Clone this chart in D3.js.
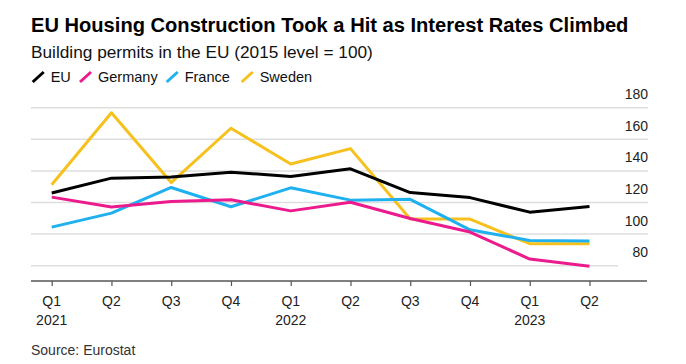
<!DOCTYPE html>
<html>
<head>
<meta charset="utf-8">
<script src="https://cdn.jsdelivr.net/npm/d3@7"></script>
<style>
  html, body { margin: 0; padding: 0; background: #fff; }
  svg { display: block; font-family: "Liberation Sans", Arial, sans-serif; }
</style>
</head>
<body>
<svg id="chart" width="686" height="364"></svg>
<script>
const quarters = ["Q1 2021","Q2 2021","Q3 2021","Q4 2021","Q1 2022","Q2 2022","Q3 2022","Q4 2022","Q1 2023","Q2 2023"];
const quarterLabels = ["Q1","Q2","Q3","Q4","Q1","Q2","Q3","Q4","Q1","Q2"];
const yearLabels = ["2021","","","","2022","","","","2023",""];
const yTicks = [80, 100, 120, 140, 160, 180];

const euValues      = [126, 135.4, 136.2, 139.2, 136.4, 141.3, 126.3, 123.1, 113.9, 117.5];
const germanyValues = [123.4, 117.1, 120.6, 121.7, 114.7, 120.2, 109.9, 101.3, 84.2, 79.6];
const franceValues  = [104.4, 113.3, 129.5, 117.3, 129.3, 121.5, 122, 102.7, 96, 95.6];
const swedenValues  = [131.2, 176.8, 132.6, 167, 144.4, 154.1, 109.5, 109.5, 93.9, 93.9];

const seriesNames = ["EU", "Germany", "France", "Sweden"];
const seriesColors = ["#000000", "#ec1b8d", "#1fb0f0", "#f6c11c"];
const seriesValues = [euValues, germanyValues, franceValues, swedenValues];

const svg = d3.select("#chart");

const x = d3.scalePoint().domain(quarters).range([51.7, 589.5]);
const y = d3.scaleLinear().domain([70, 180]).range([281.5, 107.7]);

// Title & subtitle
function fitText(sel, target) {
  const w = sel.node().getComputedTextLength();
  const fs = parseFloat(sel.attr("font-size"));
  sel.attr("font-size", (fs * target / w).toFixed(2));
}
const title = svg.append("text").attr("x", 31).attr("y", 31.5)
  .attr("font-size", 20).attr("font-weight", "bold").attr("fill", "#000")
  .text("EU Housing Construction Took a Hit as Interest Rates Climbed");
fitText(title, 598);
const sub = svg.append("text").attr("x", 31).attr("y", 57.5)
  .attr("font-size", 17).attr("fill", "#111")
  .text("Building permits in the EU (2015 level = 100)");
fitText(sub, 342);

// Legend
const legendX = [32.7, 80, 166.7, 241.7];
const legend = svg.append("g");
seriesNames.forEach((n, i) => {
  const lx = legendX[i];
  legend.append("line").attr("x1", lx).attr("y1", 82).attr("x2", lx + 11).attr("y2", 72)
    .attr("stroke", seriesColors[i]).attr("stroke-width", 3).attr("stroke-linecap", "butt");
  legend.append("text").attr("x", lx + 18).attr("y", 82.3)
    .attr("font-size", 14.5).attr("fill", "#111").text(n);
});

// Gridlines & y labels
const grid = svg.append("g");
yTicks.forEach(t => {
  grid.append("line").attr("x1", 31).attr("x2", t === 80 ? 618 : 648)
    .attr("y1", y(t)).attr("y2", y(t))
    .attr("stroke", "#dedede").attr("stroke-width", 1.5);
  grid.append("text").attr("x", 648).attr("y", y(t) - 8.5)
    .attr("text-anchor", "end").attr("font-size", 14).attr("fill", "#222").text(t);
});

// X axis
const axisY = 281;
const xAxis = d3.axisBottom(x).tickSize(5).tickFormat(() => "");
const ax = svg.append("g").attr("transform", `translate(0,${axisY})`).call(xAxis);
ax.select(".domain").remove();
ax.selectAll(".tick line").attr("stroke", "#555").attr("stroke-width", 1.2);
svg.append("line").attr("x1", 31).attr("x2", 647).attr("y1", axisY).attr("y2", axisY)
  .attr("stroke", "#555").attr("stroke-width", 1.5);
quarters.forEach((q, i) => {
  svg.append("text").attr("x", x(q)).attr("y", 306).attr("text-anchor", "middle")
    .attr("font-size", 14).attr("fill", "#222").text(quarterLabels[i]);
  if (yearLabels[i]) {
    svg.append("text").attr("x", x(q)).attr("y", 324.5).attr("text-anchor", "middle")
      .attr("font-size", 14).attr("fill", "#222").text(yearLabels[i]);
  }
});

// Lines (Sweden bottom, EU top)
const line = d3.line().x((d, i) => x(quarters[i])).y(d => y(d));
for (let i = seriesValues.length - 1; i >= 0; i--) {
  svg.append("path").datum(seriesValues[i]).attr("d", line)
    .attr("fill", "none").attr("stroke", seriesColors[i]).attr("stroke-width", 3)
    .attr("stroke-linejoin", "round").attr("stroke-linecap", "butt");
}

// Source
svg.append("text").attr("x", 31).attr("y", 355).attr("font-size", 14)
  .attr("fill", "#333").text("Source: Eurostat");
</script>
</body>
</html>
